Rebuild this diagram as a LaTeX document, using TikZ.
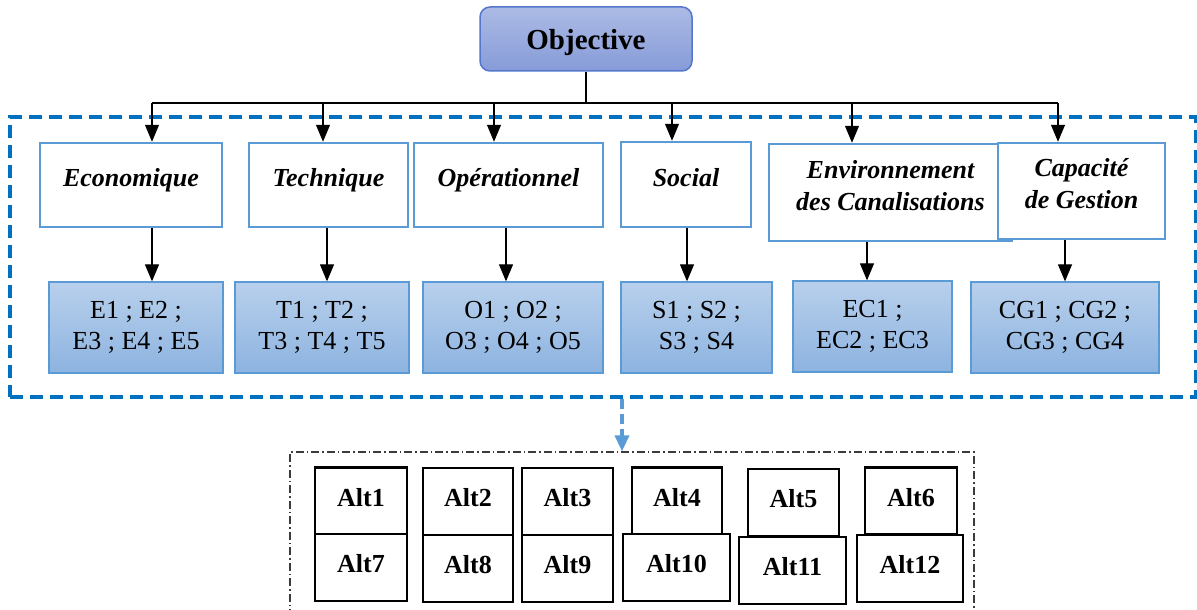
\documentclass[tikz,border=0pt]{standalone}
\usepackage{fontspec}
\setmainfont{Liberation Serif}
\usetikzlibrary{arrows.meta}
\definecolor{objline}{RGB}{84,119,204}
\definecolor{objtop}{RGB}{172,186,228}
\definecolor{objbot}{RGB}{134,155,216}
\definecolor{critline}{RGB}{91,155,213}
\definecolor{subtop}{RGB}{184,208,236}
\definecolor{subbot}{RGB}{141,179,224}
\definecolor{groupline}{RGB}{0,112,192}
\definecolor{altframe}{RGB}{60,60,60}

\begin{document}
\begin{tikzpicture}[x=1pt, y=-1pt,
    objbox/.style = {draw=objline, line width=1.5pt, rounded corners=10pt, top color=objtop, bottom color=objbot, font=\fontsize{29}{34}\selectfont\bfseries, text depth=0pt, minimum width=212pt, minimum height=64pt},
    crit/.style = {draw=critline, line width=2.5pt, fill=white, font=\fontsize{26}{32}\selectfont\bfseries\itshape, align=center, text depth=14.5pt},
    sub/.style = {draw=critline, line width=1.3pt, top color=subtop, bottom color=subbot, font=\fontsize{26}{31}\selectfont, align=center, minimum width=174pt, minimum height=91pt},
    alt/.style = {draw=black, line width=2.5pt, fill=white, font=\fontsize{26}{31}\selectfont\bfseries, text depth=8pt, minimum width=91pt, minimum height=67pt},
    arr/.style = {-{Triangle[length=17pt,width=14pt]}, line width=1.2pt},
    group/.style = {draw=groupline, line width=3.5pt, dash pattern=on 13pt off 7pt},
    dasharr/.style = {draw=critline, line width=3.5pt, dash pattern=on 10pt off 5pt, -{Triangle[length=16pt,width=14pt]}},
    frame/.style = {draw=altframe, line width=1.2pt, dash pattern=on 8pt off 3pt on 1.5pt off 3pt}]
    \useasboundingbox (0,0) rectangle (1197,610);

    % criteria group and alternatives frame
    \node[group, minimum width=1186pt, minimum height=280pt] (grp) at (603,257) {};
    \node[frame, minimum width=684pt, minimum height=180pt] (altset) at (632,542) {};

    % goal
    \node[objbox] (obj) at (586,39) {Objective};

    % criteria
    \node[crit, minimum width=182pt, minimum height=84pt] (eco) at (131,185) {Economique};
    \node[crit, minimum width=159pt, minimum height=84pt] (tech) at (328.5,185) {Technique};
    \node[crit, minimum width=189pt, minimum height=84pt] (oper) at (508.5,185) {Opérationnel};
    \node[crit, minimum width=130pt, minimum height=85pt] (soc) at (686,184.5) {Social};
    \node[crit, minimum width=243pt, minimum height=97pt] (env) at (890.5,192.5) {Environnement\\des Canalisations};
    \node[crit, minimum width=167pt, minimum height=96pt] (cap) at (1081.5,191) {Capacité\\de Gestion};

    % sub-criteria
    \node[sub] (subE) at (136,327.5) {E1 ; E2 ;\\E3 ; E4 ; E5};
    \node[sub] (subT) at (322,327.5) {T1 ; T2 ;\\T3 ; T4 ; T5};
    \node[sub, minimum width=180pt] (subO) at (513,327.5) {O1 ; O2 ;\\O3 ; O4 ; O5};
    \node[sub, minimum width=151pt] (subS) at (696.5,327.5) {S1 ; S2 ;\\S3 ; S4};
    \node[sub, minimum width=159pt] (subEC) at (872.5,326.5) {EC1 ;\\EC2 ; EC3};
    \node[sub, minimum width=188pt] (subCG) at (1065,327.5) {CG1 ; CG2 ;\\CG3 ; CG4};

    % alternatives
    \node[alt, minimum width=92pt] (alt1) at (361,501) {Alt1};
    \node[alt, minimum width=92pt] (alt7) at (361,567.5) {Alt7};
    \node[alt, minimum width=90pt] (alt2) at (468,501.5) {Alt2};
    \node[alt, minimum width=90pt] (alt8) at (468,568.5) {Alt8};
    \node[alt] (alt3) at (567.5,501.5) {Alt3};
    \node[alt] (alt9) at (567.5,568.5) {Alt9};
    \node[alt, minimum width=90pt] (alt4) at (677,501) {Alt4};
    \node[alt, minimum width=107pt] (alt10) at (676.5,567.5) {Alt10};
    \node[alt] (alt5) at (793.5,502.5) {Alt5};
    \node[alt, minimum width=107pt] (alt11) at (792.5,570.5) {Alt11};
    \node[alt, minimum width=92pt] (alt6) at (911,501) {Alt6};
    \node[alt, minimum width=106pt] (alt12) at (910,568.5) {Alt12};

    % bus from the goal
    \coordinate (b1) at (152,103);
    \coordinate (b2) at (323,103);
    \coordinate (b3) at (494,103);
    \coordinate (b4) at (672,103);
    \coordinate (b5) at (852,103);
    \coordinate (b6) at (1058,103);
    \draw[line width=1.2pt] (obj.south) -- (obj.south |- b1);
    \draw[line width=1.2pt] (b1) -- (b6);
    \draw[arr] (b1) -- (b1 |- eco.north);
    \draw[arr] (b2) -- (b2 |- tech.north);
    \draw[arr] (b3) -- (b3 |- oper.north);
    \draw[arr] (b4) -- (b4 |- soc.north);
    \draw[arr] (b5) -- (b5 |- env.north);
    \draw[arr] (b6) -- (b6 |- cap.north);

    % criteria to sub-criteria
    \draw[arr] ([xshift=21pt]eco.south) -- ([xshift=16pt]subE.north);
    \draw[arr] ([xshift=-1.5pt]tech.south) -- ([xshift=5pt]subT.north);
    \draw[arr] ([xshift=-2.5pt]oper.south) -- ([xshift=-7pt]subO.north);
    \draw[arr] ([xshift=1pt]soc.south) -- ([xshift=-9.5pt]subS.north);
    \draw[arr] ([xshift=-23.5pt]env.south) -- ([xshift=-5.5pt]subEC.north);
    \draw[arr] ([xshift=-16.5pt]cap.south) -- (subCG.north);

    % to the alternatives
    \draw[dasharr] ([xshift=19pt]grp.south) -- ([xshift=-10pt]altset.north);
\end{tikzpicture}
\end{document}
